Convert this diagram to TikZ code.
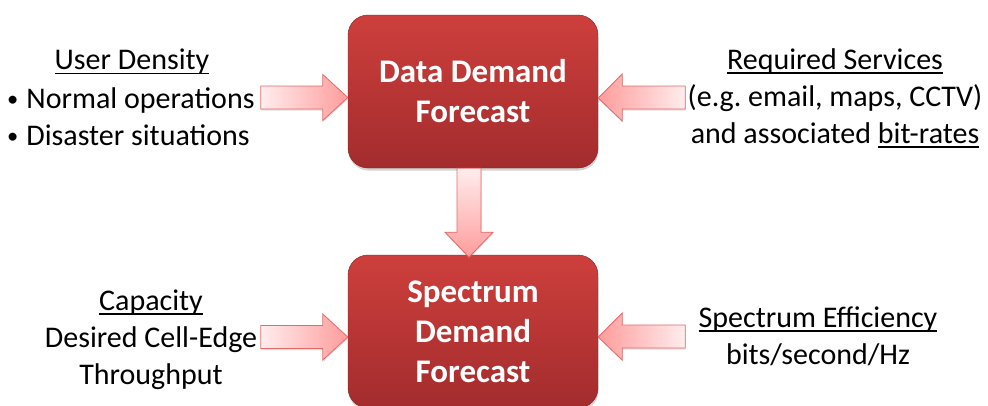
\documentclass[tikz,border=0pt]{standalone}
\usepackage{fontspec}
\setmainfont{Carlito}
\usepackage{graphicx}
\frenchspacing
\usetikzlibrary{shadows,calc}
\definecolor{boxtop}{HTML}{CD3F3C}
\definecolor{boxbot}{HTML}{A32C2D}
\definecolor{arlight}{HTML}{FFEDED}
\definecolor{arpink}{HTML}{FF9C9C}
\definecolor{arline}{HTML}{E46A6A}
\newsavebox\ulbox
\newcommand\ulx[1]{\sbox\ulbox{#1}\rlap{\rule[-4.5pt]{\wd\ulbox}{1.6pt}}\usebox\ulbox}
\newcommand\bul{\raisebox{1.5pt}{\scalebox{0.75}{\textbullet}}\hspace{8pt}}
\tikzset{
  forecast/.style={rectangle, rounded corners=20pt, minimum width=250pt, minimum height=153pt,
    top color=boxtop, bottom color=boxbot, draw=boxbot!80!black, line width=0.4pt,
    drop shadow={opacity=0.35, shadow xshift=0.5pt, shadow yshift=-2.5pt},
    text=white, font=\bfseries\fontsize{33}{40}\selectfont, align=center, inner sep=0pt},
  label/.style={font=\fontsize{30}{37}\selectfont, align=center, inner sep=0pt},
  blockarrow/.style={draw=arline, line width=0.8pt, line join=miter,
    drop shadow={opacity=0.25, shadow xshift=0.5pt, shadow yshift=-1.5pt}},
}
\begin{document}
\begin{tikzpicture}[x=1pt,y=-1pt]
\useasboundingbox (0,0) rectangle (988,405);
% boxes
\node[forecast] (dd) at (473,91.5) {Data Demand\\Forecast};
\node[forecast] (sd) at (473,331.5) {Spectrum\\Demand\\Forecast};
% labels
\node[label, anchor=center] (ud) at (132,62) {\ulx{User Density}};
\node[label, anchor=north west, align=left] (udl) at (7,87) {\bul Normal operations\\\bul Disaster situations};
\node[label] (rs) at (835,98) {\ulx{Required Services}\\(e.g. email, maps, CCTV)\\and associated \ulx{bit-rates}};
\node[label] (cap) at (151,339.5) {\ulx{Capacity}\\Desired Cell-Edge\\Throughput};
\node[label] (se) at (818,336) {\ulx{Spectrum Efficiency}\\bits/second/Hz};
% arrow tips
\coordinate (t1) at ($(dd.west)+(0,6)$);
\coordinate (t2) at ($(dd.east)+(0,6.5)$);
\coordinate (t3) at ($(dd.south)+(-4,89)$);
\coordinate (t4) at ($(sd.west)+(0,5.5)$);
\coordinate (t5) at ($(sd.east)+(0,5.5)$);
% right-pointing arrows
\foreach \t in {t1,t4}{
  \draw[blockarrow, left color=arlight, right color=arpink]
    (\t) -- ++(-25,-23) -- ++(0,11.5) -- ++(-62,0) -- ++(0,23) -- ++(62,0) -- ++(0,11.5) -- cycle;
}
% left-pointing arrows
\foreach \t in {t2,t5}{
  \draw[blockarrow, left color=arpink, right color=arlight]
    (\t) -- ++(24,-24) -- ++(0,12) -- ++(63,0) -- ++(0,23) -- ++(-63,0) -- ++(0,12) -- cycle;
}
% down arrow
\draw[blockarrow, top color=arlight, bottom color=arpink]
  (t3) -- ++(-24,-25) -- ++(12,0) -- ++(0,-64) -- ++(24,0) -- ++(0,64) -- ++(12,0) -- cycle;
\end{tikzpicture}
\end{document}
